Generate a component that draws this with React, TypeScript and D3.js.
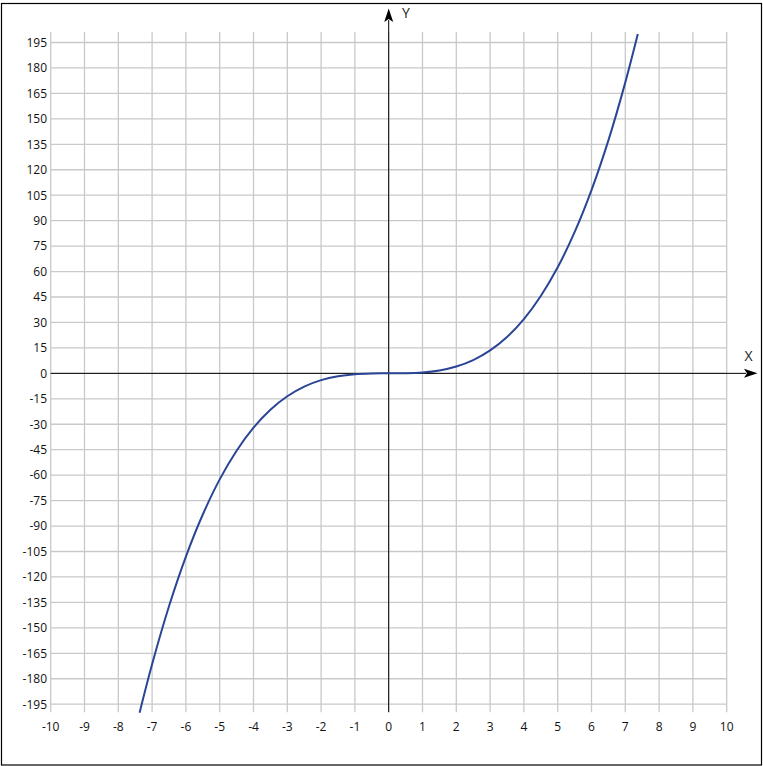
import React from "react";
import * as d3 from "d3";

const xTicks = [-10, -9, -8, -7, -6, -5, -4, -3, -2, -1, 0, 1, 2, 3, 4, 5, 6, 7, 8, 9, 10];
const yTicks = [195, 180, 165, 150, 135, 120, 105, 90, 75, 60, 45, 30, 15, 0, -15, -30, -45, -60, -75, -90, -105, -120, -135, -150, -165, -180, -195];
const curveX = [-7.37, -7, -6.5, -6, -5.5, -5, -4.5, -4, -3.5, -3, -2.5, -2, -1.5, -1, -0.5, 0, 0.5, 1, 1.5, 2, 2.5, 3, 3.5, 4, 4.5, 5, 5.5, 6, 6.5, 7, 7.37];
const curveY = [-200, -171.5, -137.3, -108, -83.2, -62.5, -45.6, -32, -21.4, -13.5, -7.8, -4, -1.7, -0.5, -0.06, 0, 0.06, 0.5, 1.7, 4, 7.8, 13.5, 21.4, 32, 45.6, 62.5, 83.2, 108, 137.3, 171.5, 200];

export default function App() {
  const W = 763, H = 766;
  const x = d3.scaleLinear().domain([-10, 10]).range([50.7, 726.7]);
  const y = d3.scaleLinear().domain([-195, 195]).range([704.2, 42.5]);
  const pts: [number, number][] = curveX.map((v, i) => [v, curveY[i]]);
  const line = d3.line<[number, number]>().x(d => x(d[0])).y(d => y(d[1])).curve(d3.curveCatmullRom.alpha(0.5));
  const gridColor = "#c9c9c9";
  const font = "'Open Sans', 'Noto Sans', sans-serif";
  const x0 = x(0), y0 = y(0);
  return (
    <svg width={W} height={H} style={{ position: "absolute", left: 0, top: 0 }}>
      <rect x={0} y={0} width={W} height={H} fill="#fff" />
      <rect x={1.5} y={3.5} width={760} height={761.5} fill="none" stroke="#000" strokeWidth={1.2} />
      {yTicks.map(t => (
        <line key={"h" + t} x1={x(-10)} x2={x(10)} y1={y(t)} y2={y(t)} stroke={gridColor} strokeWidth={1.3} />
      ))}
      {xTicks.map(t => (
        <line key={"v" + t} x1={x(t)} x2={x(t)} y1={y(195) - 10.5} y2={y(-195) + 8} stroke={gridColor} strokeWidth={1.3} />
      ))}
      {yTicks.map(t => (
        <text key={"yl" + t} x={47} y={y(t) + 4.3} textAnchor="end" fontFamily={font} fontSize={12} fill="#111">{t}</text>
      ))}
      {xTicks.map(t => (
        <text key={"xl" + t} x={x(t)} y={731} textAnchor="middle" fontFamily={font} fontSize={12} fill="#111">{t}</text>
      ))}
      <line x1={x(-10)} x2={746} y1={y0} y2={y0} stroke="#000" strokeWidth={1} />
      <path d={`M757.5,${y0} L744,${y0 - 4.5} L747,${y0} L744,${y0 + 4.5} Z`} fill="#000" />
      <line x1={x0} x2={x0} y1={y(-195) + 8} y2={20} stroke="#000" strokeWidth={1} />
      <path d={`M${x0},8.5 L${x0 - 4.5},22 L${x0},19 L${x0 + 4.5},22 Z`} fill="#000" />
      <text x={748.5} y={361} textAnchor="middle" fontFamily={font} fontSize={14} fill="#222">X</text>
      <text x={406} y={18} textAnchor="middle" fontFamily={font} fontSize={14} fill="#222">Y</text>
      <path d={line(pts) || ""} fill="none" stroke="#2b4596" strokeWidth={2} />
    </svg>
  );
}
